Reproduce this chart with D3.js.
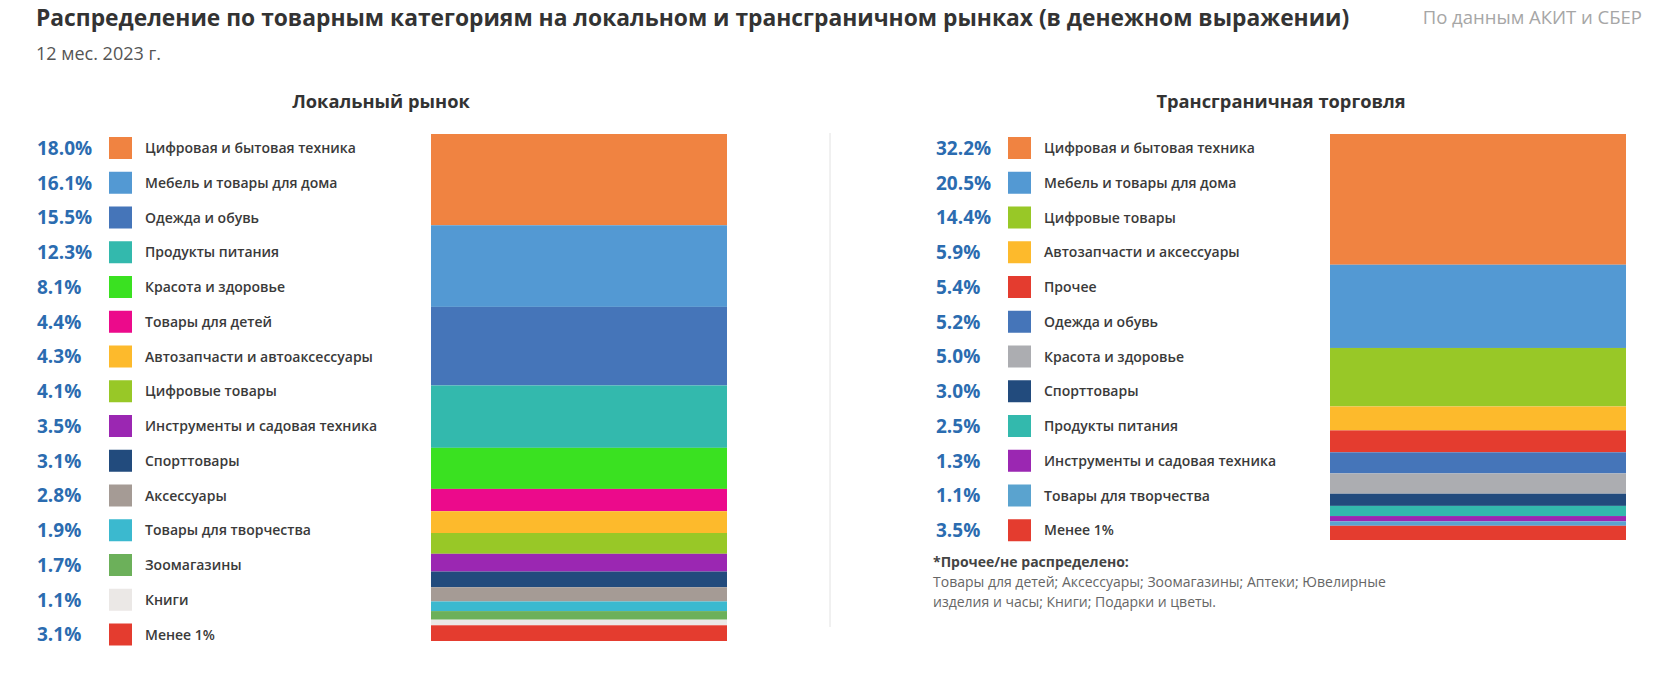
<!DOCTYPE html>
<meta charset="utf-8">
<script src="https://cdn.jsdelivr.net/npm/d3@7"></script>
<style>
body { margin: 0; background: #fff; }
text { font-family: "Open Sans", sans-serif; }
.title { font-size: 22.8px; font-weight: 700; fill: #333; }
.sub { font-size: 18px; fill: #555; }
.source { font-size: 18.5px; fill: #a6a6a6; }
.panel-title { font-size: 18.3px; font-weight: 700; fill: #333; }
.pct { font-size: 19px; font-weight: 700; fill: #2b6cb0; }
.lbl { font-size: 14px; font-weight: 600; fill: #3a3a3a; }
.note-b { font-size: 14px; font-weight: 700; fill: #444; }
.note { font-size: 14px; fill: #666; }
</style>
<body>
<div id="chart"></div>
<script>
// ---------- data ----------
const localCategories = ["Цифровая и бытовая техника", "Мебель и товары для дома", "Одежда и обувь",
  "Продукты питания", "Красота и здоровье", "Товары для детей", "Автозапчасти и автоаксессуары",
  "Цифровые товары", "Инструменты и садовая техника", "Спорттовары", "Аксессуары",
  "Товары для творчества", "Зоомагазины", "Книги", "Менее 1%"];
const localValues = [18.0, 16.1, 15.5, 12.3, 8.1, 4.4, 4.3, 4.1, 3.5, 3.1, 2.8, 1.9, 1.7, 1.1, 3.1];
const localColors = ["#f08341", "#5399d3", "#4575b9", "#33b9ad", "#3ae121", "#ec0a8b", "#fdba2c",
  "#98c827", "#9b27b2", "#224b7d", "#a59b95", "#3bb9cf", "#6cb05a", "#ebe8e6", "#e43c2f"];

const crossCategories = ["Цифровая и бытовая техника", "Мебель и товары для дома", "Цифровые товары",
  "Автозапчасти и аксессуары", "Прочее", "Одежда и обувь", "Красота и здоровье", "Спорттовары",
  "Продукты питания", "Инструменты и садовая техника", "Товары для творчества", "Менее 1%"];
const crossValues = [32.2, 20.5, 14.4, 5.9, 5.4, 5.2, 5.0, 3.0, 2.5, 1.3, 1.1, 3.5];
const crossColors = ["#f08341", "#5399d3", "#98c827", "#fdba2c", "#e43c2f", "#4575b9", "#acadb1",
  "#224b7d", "#33b9ad", "#9b27b2", "#5aa3cf", "#e43c2f"];

const noteTitle = "*Прочее/не распределено:";
const noteLines = ["Товары для детей; Аксессуары; Зоомагазины; Аптеки; Ювелирные",
  "изделия и часы; Книги; Подарки и цветы."];

// ---------- layout ----------
const W = 1666, H = 686;
const rowStep = 34.75, rowTop = 148;

const svg = d3.select("#chart").append("svg")
  .attr("width", W).attr("height", H);

svg.append("text").attr("class", "title").attr("x", 36).attr("y", 26)
  .text("Распределение по товарным категориям на локальном и трансграничном рынках (в денежном выражении)");
svg.append("text").attr("class", "sub").attr("x", 36).attr("y", 60).text("12 мес. 2023 г.");
svg.append("text").attr("class", "source").attr("x", 1642).attr("y", 24)
  .attr("text-anchor", "end").text("По данным АКИТ и СБЕР");

// divider
svg.append("line").attr("x1", 830).attr("x2", 830).attr("y1", 133).attr("y2", 627)
  .attr("stroke", "#e2e2e2").attr("stroke-width", 1);

function panel(opts) {
  const g = svg.append("g");
  const n = opts.values.length;

  g.append("text").attr("class", "panel-title")
    .attr("x", opts.titleX).attr("y", 108).attr("text-anchor", "middle").text(opts.title);

  // legend rows
  const yRow = d3.scalePoint().domain(d3.range(n))
    .range([rowTop, rowTop + (n - 1) * rowStep]);

  const rows = g.selectAll(".row").data(opts.values).enter().append("g")
    .attr("transform", (d, i) => "translate(0," + yRow(i) + ")");
  rows.append("text").attr("class", "pct").attr("x", opts.x0).attr("dy", "0.36em")
    .text(d => d.toFixed(1) + "%");
  rows.append("rect").attr("x", opts.x0 + 72).attr("y", -11).attr("width", 23).attr("height", 22)
    .attr("fill", (d, i) => opts.colors[i]);
  rows.append("text").attr("class", "lbl").attr("x", opts.x0 + 108).attr("dy", "0.36em")
    .text((d, i) => opts.categories[i]);

  // stacked bar
  const y = d3.scaleLinear().domain([0, d3.sum(opts.values)]).range([134, opts.barBottom]);
  const ends = d3.cumsum(opts.values);
  g.selectAll(".seg").data(opts.values).enter().append("rect")
    .attr("x", opts.barX).attr("width", 296)
    .attr("y", (d, i) => y(ends[i] - d))
    .attr("height", (d, i) => y(ends[i]) - y(ends[i] - d))
    .attr("fill", (d, i) => opts.colors[i]);
}

panel({ title: "Локальный рынок", titleX: 381, x0: 37, barX: 431, barBottom: 641,
  values: localValues, categories: localCategories, colors: localColors });
panel({ title: "Трансграничная торговля", titleX: 1281, x0: 936, barX: 1330, barBottom: 540,
  values: crossValues, categories: crossCategories, colors: crossColors });

svg.append("text").attr("class", "note-b").attr("x", 933).attr("y", 567).text(noteTitle);
svg.selectAll(".note").data(noteLines).enter().append("text").attr("class", "note")
  .attr("x", 933).attr("y", (d, i) => 587 + i * 19.5).text(d => d);
</script>
</body>
